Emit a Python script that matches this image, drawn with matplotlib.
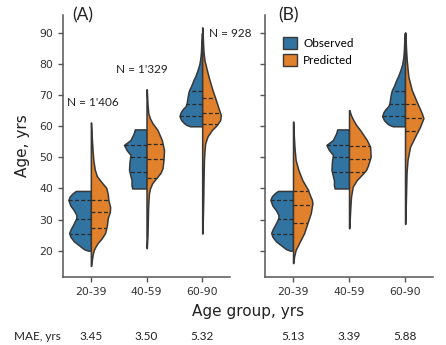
import numpy as np
import matplotlib
matplotlib.use("Agg")
import matplotlib.pyplot as plt
from matplotlib.patches import Patch
from matplotlib.transforms import blended_transform_factory

# ---- data -----------------------------------------------------------------
groups = ["20-39", "40-59", "60-90"]
y_ticks = [20, 30, 40, 50, 60, 70, 80, 90]
n_labels = ["N = 1'406", "N = 1'329", "N = 928"]
mae_a = [3.45, 3.50, 5.32]
mae_b = [5.13, 3.39, 5.88]

# density profiles (age, relative density) of each half violin
obs_age_1 = [20.0, 20.5, 21.5, 23.0, 24.5, 25.7, 27.0, 28.8, 30.5, 31.5, 33.0, 34.5, 36.3, 37.5, 38.5, 39.2]
obs_den_1 = [3, 7, 11, 17, 20.5, 21.7, 20, 17, 14.5, 14.5, 17, 20.5, 22.5, 21, 18, 15]
obs_age_2 = [40.0, 41.0, 42.7, 44.0, 46.0, 48.6, 50.8, 52.4, 54.0, 55.6, 57.8, 59.0]
obs_den_2 = [14.3, 15, 15, 16, 17.5, 17, 16, 20, 22.5, 16, 12.7, 11.7]
obs_age_3 = [60.0, 60.5, 61.0, 62.0, 63.3, 64.5, 65.5, 66.5, 67.5, 68.5, 70.5, 71.7, 73.0, 74.9, 76.0, 78.0, 80.0, 82.0, 84.0, 87.0, 90.0]
obs_den_3 = [12, 16, 18, 21, 22.7, 21.5, 19.5, 16.5, 15.5, 15, 14, 13, 11, 8.7, 7, 4.7, 2.8, 1.8, 1.2, 0.8, 0.3]

pred_a_age_1 = [15.1, 17, 19, 20.2, 21.5, 22.5, 24, 25.7, 28, 30.5, 32.5, 34, 36.3, 38, 40.2, 41.5, 42.7, 44, 46, 49, 52, 56, 61.2]
pred_a_den_1 = [0.3, 1, 2, 3, 5, 7, 11, 14.3, 16, 17, 19, 19.3, 17.5, 17, 15.5, 12, 9, 6, 4, 2.5, 1.8, 1.0, 0.3]
pred_a_age_2 = [20.8, 25, 30, 34, 36.3, 38.5, 40, 41.7, 43.4, 45, 46.5, 49.2, 52.4, 55.6, 58.8, 61, 62.5, 64.2, 67, 71.9]
pred_a_den_2 = [0.3, 1, 1.3, 1.6, 2, 2.5, 3.5, 5.7, 10, 14, 16, 17, 17.5, 15.3, 11, 6, 3.5, 1.8, 1, 0.3]
pred_a_age_3 = [25.5, 35, 45, 49.2, 52, 54.5, 56.7, 58.8, 60.4, 62, 63.6, 65.2, 68.5, 71.7, 74.9, 78.1, 81.3, 84, 88, 91.8]
pred_a_den_3 = [0.3, 1, 1.5, 1.8, 2.3, 3, 5.3, 9.7, 14.7, 18, 18.7, 17, 13.7, 10.3, 7.3, 4.7, 2.3, 1.3, 0.7, 0.3]

pred_b_age_1 = [16, 18, 20.2, 22.4, 25.6, 28.8, 32, 35.2, 36.3, 38.5, 39.5, 42.7, 46, 49.2, 53, 57, 61.5]
pred_b_den_1 = [0.3, 1, 2.6, 6, 11, 14.3, 17.6, 19.3, 18.8, 16, 15, 9.3, 5.3, 2.6, 1.5, 0.8, 0.3]
pred_b_age_2 = [27.2, 32, 35, 37.4, 40.6, 42.7, 44.5, 46, 47.5, 50.2, 53.4, 55.6, 58.8, 60.5, 62, 63.5, 65.2]
pred_b_den_2 = [0.3, 1, 1.5, 2, 3.7, 7.7, 13, 17, 19, 21.5, 21, 17.7, 11, 7, 4.3, 2, 0.3]
pred_b_age_3 = [28.6, 38, 45, 49.2, 53.4, 56.7, 59.9, 62.6, 64.2, 67.4, 71.7, 76, 81.3, 85, 90.2]
pred_b_den_3 = [0.3, 1, 1.5, 2.5, 5, 10, 15, 18.3, 16.7, 12.3, 6.7, 3.3, 1.7, 1.0, 0.3]

# quartiles (Q1, median, Q3)
obs_quartiles = [(25.3, 30.2, 36.2), (45.3, 50.2, 54.1), (63.4, 67.1, 71.4)]
pred_a_quartiles = [(27.4, 32.3, 36.2), (43.3, 49.4, 54.2), (60.6, 64.4, 69.2)]
pred_b_quartiles = [(28.8, 34.8, 39.1), (45.2, 49.5, 53.8), (58.5, 62.7, 67.1)]

# ---- style ----------------------------------------------------------------
BLUE = "#3274a1"
ORANGE = "#e1812c"
EDGE = "#383838"
SPINE = "#555555"
WIDTH_SCALE = 1 / 55.7
LABEL_FONT = ["Lato", "DejaVu Sans"]

fig = plt.figure(figsize=(4.46, 3.45), dpi=100)
ax_a = fig.add_axes([0.1413, 0.197, 0.3744, 0.7594])
ax_b = fig.add_axes([0.5942, 0.197, 0.3767, 0.7594])


def half_violin(ax, pos, ages, dens, quartiles, side, color):
    ages = np.asarray(ages, float)
    w = np.asarray(dens, float) * WIDTH_SCALE
    sign = -1 if side == "left" else 1
    ax.fill_betweenx(ages, pos, pos + sign * w, facecolor=color,
                     edgecolor=EDGE, linewidth=1.1, zorder=2)
    for q in quartiles:
        qw = np.interp(q, ages, w)
        ax.plot([pos, pos + sign * qw], [q, q], color="#2a2a2a",
                linestyle=(0, (3.2, 1.8)), linewidth=0.9, zorder=3)


obs_profiles = [(obs_age_1, obs_den_1), (obs_age_2, obs_den_2), (obs_age_3, obs_den_3)]
pred_a_profiles = [(pred_a_age_1, pred_a_den_1), (pred_a_age_2, pred_a_den_2), (pred_a_age_3, pred_a_den_3)]
pred_b_profiles = [(pred_b_age_1, pred_b_den_1), (pred_b_age_2, pred_b_den_2), (pred_b_age_3, pred_b_den_3)]

for ax, preds, pq in [(ax_a, pred_a_profiles, pred_a_quartiles),
                      (ax_b, pred_b_profiles, pred_b_quartiles)]:
    for i in range(len(groups)):
        half_violin(ax, i, *obs_profiles[i], obs_quartiles[i], "left", BLUE)
        half_violin(ax, i, *preds[i], pq[i], "right", ORANGE)
    ax.set_xlim(-0.5, 2.5)
    ax.set_ylim(11.5, 95.8)
    ax.set_xticks(range(len(groups)))
    ax.set_xticklabels(groups)
    ax.set_yticks(y_ticks)
    for s in ["top", "right"]:
        ax.spines[s].set_visible(False)
    for s in ["left", "bottom"]:
        ax.spines[s].set_color(SPINE)
        ax.spines[s].set_linewidth(1.1)
    ax.tick_params(colors=SPINE, labelcolor="#333333", labelsize=7.8,
                   length=3.5, width=1.0)
    ax.set_facecolor("none")

ax_b.tick_params(axis="y", labelleft=False)
ax_a.set_ylabel("Age, yrs", fontsize=11, color="#222222", labelpad=7)

ax_a.text(0.054, 0.998, "(A)", transform=ax_a.transAxes, fontsize=12.5,
          family=LABEL_FONT, va="center", ha="left", color="#222222")
ax_b.text(0.077, 0.998, "(B)", transform=ax_b.transAxes, fontsize=12.5,
          family=LABEL_FONT, va="center", ha="left", color="#222222")

# sample sizes
ax_a.text(0.04, 67.5, n_labels[0], fontsize=8.5, family=LABEL_FONT,
          ha="center", va="center", color="#222222")
ax_a.text(0.91, 78.4, n_labels[1], fontsize=8.5, family=LABEL_FONT,
          ha="center", va="center", color="#222222")
ax_a.text(2.125, 90.0, n_labels[2], fontsize=8.5, family=LABEL_FONT,
          ha="left", va="center", color="#222222", clip_on=False)

# legend
handles = [Patch(facecolor=BLUE, edgecolor=EDGE, linewidth=1.0, label="Observed"),
           Patch(facecolor=ORANGE, edgecolor=EDGE, linewidth=1.0, label="Predicted")]
ax_b.legend(handles=handles, loc="upper left", bbox_to_anchor=(0.107, 0.918),
            frameon=False, borderpad=0, borderaxespad=0, handlelength=1.2,
            handleheight=1.2, handletextpad=0.5, labelspacing=0.42,
            prop={"family": LABEL_FONT, "size": 8.5})

fig.text(0.556, 0.098, "Age group, yrs", ha="center", va="center",
         fontsize=11, color="#222222")

# MAE row under each group
fig.text(14 / 446, 0.026, "MAE, yrs", ha="left", va="center", fontsize=8.5,
         family=LABEL_FONT, color="#222222")
for ax, maes in [(ax_a, mae_a), (ax_b, mae_b)]:
    tr = blended_transform_factory(ax.transData, fig.transFigure)
    for i, v in enumerate(maes):
        ax.text(i, 0.026, f"{v:.2f}", transform=tr, ha="center", va="center",
                fontsize=8.5, family=LABEL_FONT, color="#222222", clip_on=False)

fig.savefig("out.png", dpi=100, facecolor="white")
